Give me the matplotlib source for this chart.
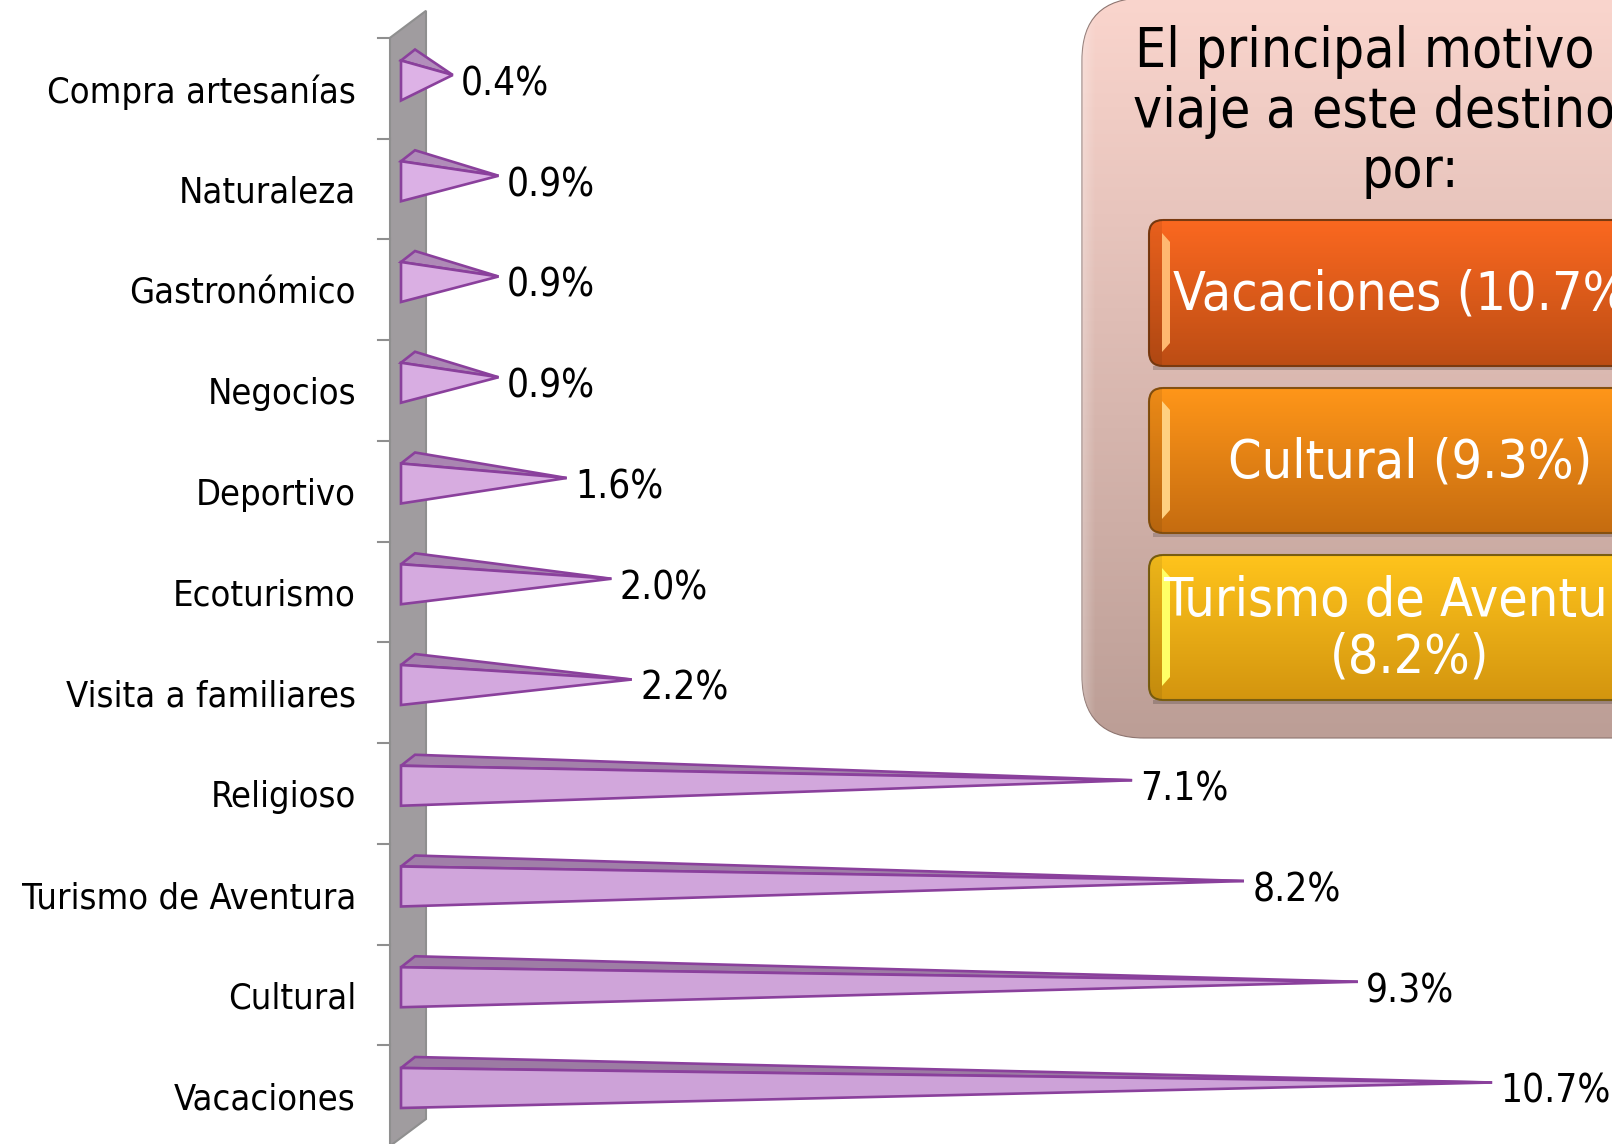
import numpy as np
import matplotlib
matplotlib.use('Agg')
import matplotlib.pyplot as plt
from matplotlib.colors import to_rgb
from matplotlib.patches import FancyBboxPatch, Polygon, Rectangle

plt.rcParams['font.family'] = ['DejaVu Sans']
plt.rcParams['font.stretch'] = 'condensed'

# --- Data (bottom to top) ---
categories = ['Vacaciones', 'Cultural', 'Turismo de Aventura', 'Religioso',
              'Visita a familiares', 'Ecoturismo', 'Deportivo', 'Negocios',
              'Gastronómico', 'Naturaleza', 'Compra artesanías']
values = [10.66, 9.34, 8.22, 7.12, 2.2, 2.0, 1.56, 0.89, 0.89, 0.89, 0.44]

panel_title = ['El principal motivo del', 'viaje a este destino es', 'por:']
button_labels = ['Vacaciones (10.7%)', 'Cultural (9.3%)', 'Turismo de Aventura\n(8.2%)']

# --- Figure geometry (pixels) ---
W, H = 1612, 1144
PX_X0, PX_PER_VAL = 408, 101.7
PX_Y0, PX_PER_CAT = 1088, 100.75

fig = plt.figure(figsize=(W / 100, H / 100), dpi=100)

# chart axes: x is the value, y the category index
ax = fig.add_axes([0, 0, 1, 1])
ax.set_xlim(-PX_X0 / PX_PER_VAL, (W - PX_X0) / PX_PER_VAL)
ax.set_ylim((PX_Y0 - H) / PX_PER_CAT, PX_Y0 / PX_PER_CAT)
ax.axis('off')

half_d = 18 / PX_PER_VAL      # half depth of the wall
wall_dy = 27 / PX_PER_CAT     # rise of the wall depth
bot = -0.576
top = len(categories) + bot

ax.add_patch(Polygon([(-half_d, bot), (-half_d, top), (half_d, top + wall_dy), (half_d, bot + wall_dy)],
                     closed=True, fc='#A09C9F', ec='#8F8F8F', lw=1.5, zorder=1))
for i in range(len(categories) + 1):
    ax.plot([-half_d - 12 / PX_PER_VAL, -half_d], [bot + i, bot + i], color='#8F8F8F', lw=1.5, zorder=1)

bar_dx = 7 / PX_PER_VAL
bar_dy = 11 / PX_PER_CAT
half_h = 20 / PX_PER_CAT
n = len(values)
for i, (name, v) in enumerate(zip(categories, values)):
    tip = (v, i + bar_dy / 2)
    shade = i / (n - 1)
    front = np.array(to_rgb('#CDA2D8')) * (1 - shade) + np.array(to_rgb('#DDB2E6')) * shade
    upper = np.array(to_rgb('#9C7BA3')) * (1 - shade) + np.array(to_rgb('#B28EBB')) * shade
    ax.add_patch(Polygon([(-bar_dx, i + half_h), (bar_dx, i + half_h + bar_dy), tip],
                         closed=True, fc=upper, ec='#8A409C', lw=1.9, zorder=2))
    ax.add_patch(Polygon([(-bar_dx, i - half_h), (-bar_dx, i + half_h), tip],
                         closed=True, fc=front, ec='#8A409C', lw=1.9, zorder=3))
    ax.annotate(f'{v:.1f}%', xy=tip, xytext=(6.0, -6.8), textcoords='offset points',
                ha='left', va='center', fontsize=27.8, color='black', zorder=4)
    ax.annotate(name, xy=(-half_d, i), xytext=(-24.5, -8.4), textcoords='offset points',
                ha='right', va='center', fontsize=26, color='black')

# --- Info panel, in pixel coordinates ---
px = fig.add_axes([0, 0, 1, 1], zorder=5)
px.set_xlim(0, W)
px.set_ylim(H, 0)
px.axis('off')


def gradient_box(x0, y0, x1, y1, radius, c_top, c_bot, edge, lw=1.5):
    t = np.linspace(0, 1, 256)[:, None]
    img = np.array(to_rgb(c_top))[None, :] * (1 - t) + np.array(to_rgb(c_bot))[None, :] * t
    im = px.imshow(img[:, None, :], extent=[x0, x1, y1, y0], aspect='auto', zorder=2)
    box = FancyBboxPatch((x0 + radius, y0 + radius), x1 - x0 - 2 * radius, y1 - y0 - 2 * radius,
                         boxstyle=f'round,pad={radius},rounding_size={radius}',
                         fc='none', ec=edge, lw=lw, zorder=3)
    px.add_patch(box)
    im.set_clip_path(box)
    return box


panel = gradient_box(1082, -2, 1800, 738, 62, '#FAD5CD', '#BC9E96', '#8E7570', lw=0.8)
# lighter rim along the panel's left side
rim = np.zeros((1, 32, 4))
rim[..., :3] = 1.0
rim[..., 3] = np.linspace(0.28, 0, 32)
im = px.imshow(rim, extent=[1082, 1096, 738, -2], aspect='auto', zorder=3)
im.set_clip_path(panel)

buttons = [(220, 366, '#FB6820', '#BC4D14', '#FFB870', '#7A3A10'),
           (388, 533, '#FF9619', '#C56C10', '#FFD080', '#85500F'),
           (555, 700, '#FFC41C', '#D3950F', '#FFFF66', '#7A5E10')]
for (y0, y1, c_top, c_bot, c_hi, c_edge) in buttons:
    px.add_patch(Rectangle((1153, y1), 470, 4, fc='black', alpha=0.18, ec='none', zorder=2))
    box = gradient_box(1149, y0, 1800, y1, 14, c_top, c_bot, c_edge)
    strip = px.add_patch(Rectangle((1149, y0), 13, y1 - y0, fc='black', alpha=0.07, ec='none', zorder=3))
    strip.set_clip_path(box)
    px.add_patch(Polygon([(1162, y0 + 13), (1170, y0 + 22), (1170, y1 - 23), (1162, y1 - 14)],
                         closed=True, fc=c_hi, ec='none', zorder=4))

for y, line in zip([52, 112, 172], panel_title):
    px.text(1410, y, line, ha='center', va='center', fontsize=39.5, color='black', zorder=5)

for y, label in zip([294, 462, 629], button_labels):
    px.text(1410, y, label, ha='center', va='center', fontsize=38.5, color='white',
            linespacing=1.12, zorder=5)

px.set_xlim(0, W)
px.set_ylim(H, 0)
fig.savefig('out.png', dpi=100)
